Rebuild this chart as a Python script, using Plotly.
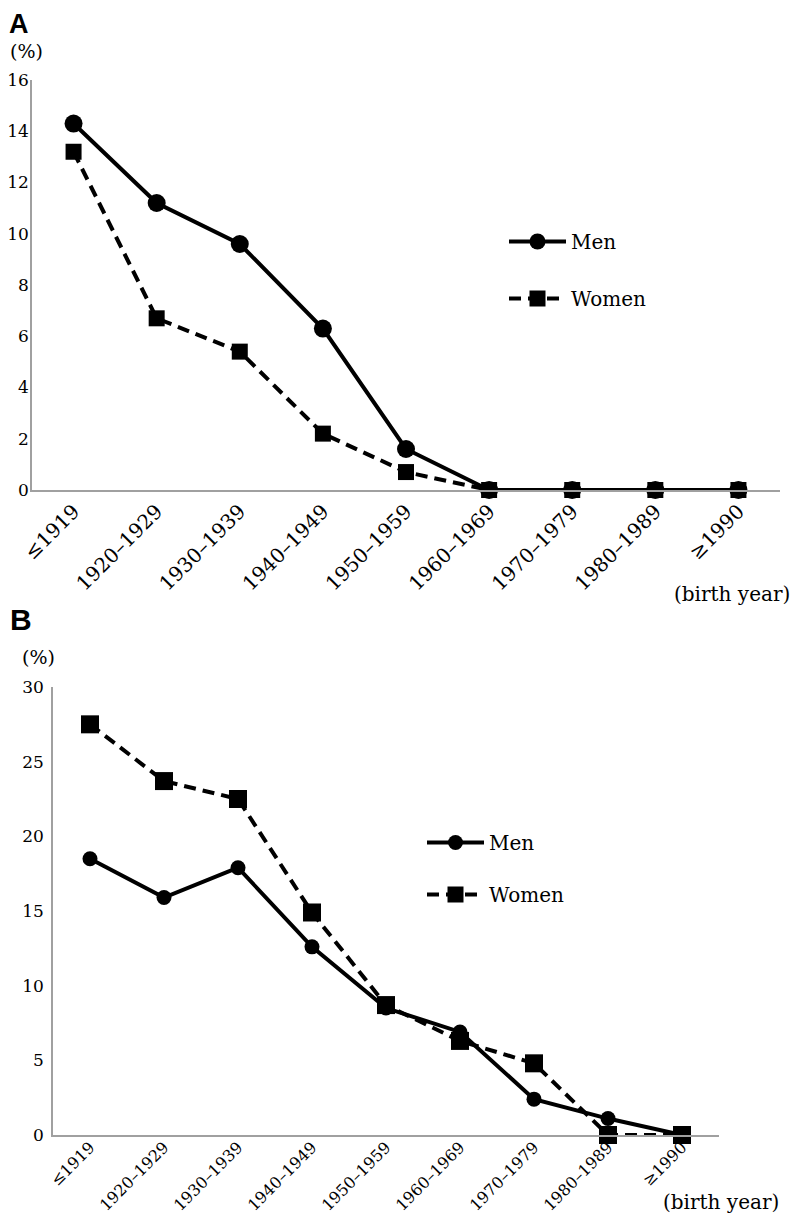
import plotly.graph_objects as go

categories = ["≤1919", "1920–1929", "1930–1939", "1940–1949", "1950–1959",
              "1960–1969", "1970–1979", "1980–1989", "≥1990"]
men_a = [14.3, 11.2, 9.6, 6.3, 1.6, 0, 0, 0, 0]
women_a = [13.2, 6.7, 5.4, 2.2, 0.7, 0, 0, 0, 0]
men_b = [18.5, 15.9, 17.9, 12.6, 8.5, 6.9, 2.4, 1.1, 0]
women_b = [27.5, 23.7, 22.5, 14.9, 8.7, 6.3, 4.8, 0, 0]
yticks_a = [0, 2, 4, 6, 8, 10, 12, 14, 16]
yticks_b = [0, 5, 10, 15, 20, 25, 30]

OFF = 8  # page body margin
W, H = 800 - 2 * OFF, 1230 - 2 * OFF
SERIF = "DejaVu Serif"

def px_x(p):
    return (p - OFF) / W

def px_y(p):
    return 1 - (p - OFF) / H

fig = go.Figure()

fig.add_trace(go.Scatter(x=categories, y=men_a, name="Men", mode="lines+markers",
                         line=dict(color="black", width=4),
                         marker=dict(symbol="circle", size=18, color="black"),
                         cliponaxis=False,
                         xaxis="x", yaxis="y", legend="legend", legendgroup="m"))
fig.add_trace(go.Scatter(x=categories, y=women_a, name="Women", mode="lines+markers",
                         line=dict(color="black", width=4, dash="12px,7px"),
                         marker=dict(symbol="square", size=16, color="black"),
                         cliponaxis=False,
                         xaxis="x", yaxis="y", legend="legend", legendgroup="w"))
fig.add_trace(go.Scatter(x=categories, y=men_b, name="Men", mode="lines+markers",
                         line=dict(color="black", width=4),
                         marker=dict(symbol="circle", size=15, color="black"),
                         cliponaxis=False,
                         xaxis="x2", yaxis="y2", legend="legend2", legendgroup="m2"))
fig.add_trace(go.Scatter(x=categories, y=women_b, name="Women", mode="lines+markers",
                         line=dict(color="black", width=4, dash="12px,7px"),
                         marker=dict(symbol="square", size=18, color="black"),
                         cliponaxis=False,
                         xaxis="x2", yaxis="y2", legend="legend2", legendgroup="w2"))

axis_common = dict(showgrid=False, zeroline=False, showline=True, linecolor="#a0a0a0",
                   linewidth=1.5, ticks="", automargin=False)
yfont = dict(family=SERIF, size=17, color="black")

fig.update_layout(
    template="none",
    width=W, height=H,
    margin=dict(l=0, r=0, t=0, b=0, pad=0),
    paper_bgcolor="white", plot_bgcolor="white",
    font=dict(family=SERIF, color="black"),
    xaxis=dict(domain=[px_x(32), px_x(780)], anchor="y", type="category",
               range=[-0.5, 8.5], tickangle=-45,
               tickfont=dict(family=SERIF, size=20, color="black"), **axis_common),
    yaxis=dict(domain=[px_y(490), px_y(80)], anchor="x", range=[0, 16],
               tickvals=yticks_a, tickfont=yfont, ticklabelstandoff=-2, **axis_common),
    xaxis2=dict(domain=[px_x(53), px_x(719)], anchor="y2", type="category",
                range=[-0.5, 8.5], tickangle=-45, ticklabelstandoff=-5,
                tickfont=dict(family=SERIF, size=16, color="black"), **axis_common),
    yaxis2=dict(domain=[px_y(1135), px_y(687)], anchor="x2", range=[0, 30],
                tickvals=yticks_b, tickfont=yfont, ticklabelstandoff=4, **axis_common),
    legend=dict(x=px_x(504), y=px_y(222), xanchor="left", yanchor="top",
                font=dict(family=SERIF, size=20, color="black"),
                traceorder="grouped", tracegroupgap=28, itemwidth=57,
                bgcolor="rgba(0,0,0,0)"),
    legend2=dict(x=px_x(422), y=px_y(823), xanchor="left", yanchor="top",
                 font=dict(family=SERIF, size=20, color="black"),
                 traceorder="grouped", tracegroupgap=23, itemwidth=57,
                 bgcolor="rgba(0,0,0,0)"),
    annotations=[
        dict(text="<b>A</b>", x=0, y=1, xref="paper", yref="paper",
             xanchor="left", yanchor="top", showarrow=False, borderpad=0,
             font=dict(family="Liberation Sans", size=27, color="black")),
        dict(text="(%)", x=0, y=px_y(51), xref="paper", yref="paper",
             xanchor="left", yanchor="middle", showarrow=False,
             font=dict(family=SERIF, size=19, color="black")),
        dict(text="(birth year)", x=1, y=px_y(594), xref="paper", yref="paper",
             xanchor="right", yanchor="middle", showarrow=False,
             font=dict(family=SERIF, size=20, color="black")),
        dict(text="<b>B</b>", x=0, y=px_y(601), xref="paper", yref="paper",
             xanchor="left", yanchor="top", showarrow=False,
             font=dict(family="Liberation Sans", size=30, color="black")),
        dict(text="(%)", x=px_x(20), y=px_y(657), xref="paper", yref="paper",
             xanchor="left", yanchor="middle", showarrow=False,
             font=dict(family=SERIF, size=19, color="black")),
        dict(text="(birth year)", x=px_x(781), y=px_y(1202), xref="paper", yref="paper",
             xanchor="right", yanchor="middle", showarrow=False,
             font=dict(family=SERIF, size=20, color="black")),
    ],
)

fig.write_html("out.html")
